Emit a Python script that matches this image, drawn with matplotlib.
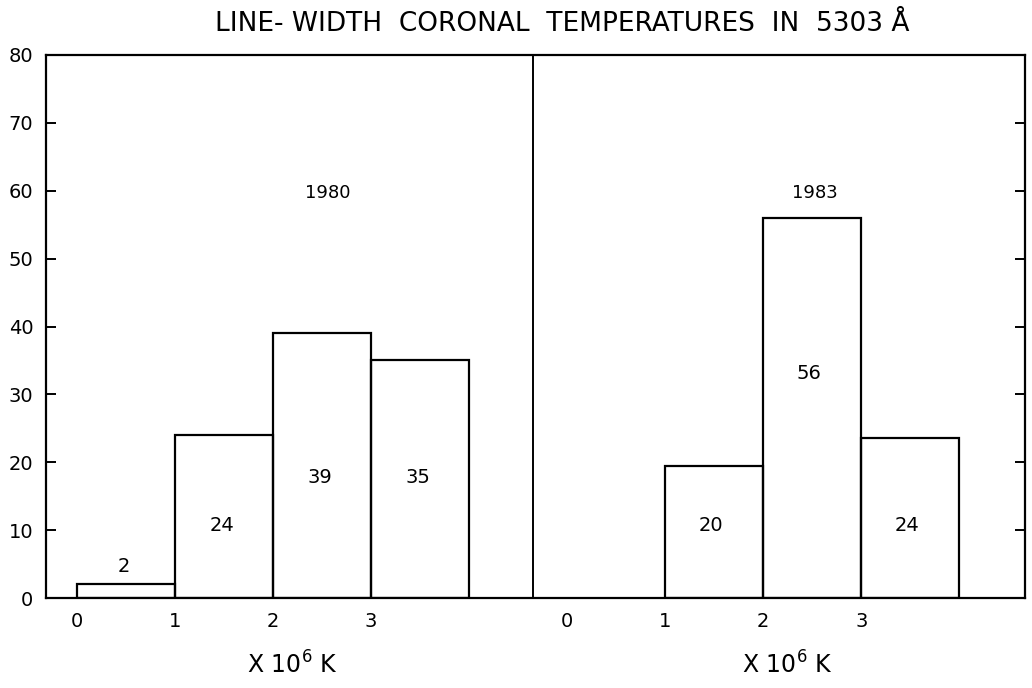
import matplotlib
matplotlib.use("Agg")
import matplotlib.pyplot as plt

# Data
bin_edges = [0, 1, 2, 3, 4]
counts_1980 = [2, 24, 39, 35]
labels_1980 = ["2", "24", "39", "35"]
bins_1983 = [1, 2, 3]          # left edges of bins with data for 1983
counts_1983 = [19.5, 56, 23.5]  # heights as drawn
labels_1983 = ["20", "56", "24"]
year_labels = ["1980", "1983"]
x_tick_labels = ["0", "1", "2", "3"]
y_ticks = [0, 10, 20, 30, 40, 50, 60, 70, 80]
title = "LINE- WIDTH  CORONAL  TEMPERATURES  IN  5303 Å"
x_label = r"X 10$^{6}$ K"

offset = 5  # x offset of second panel

fig = plt.figure(figsize=(10.32, 6.88), dpi=100)
ax = fig.add_axes([46/1032, 90/688, (1025-46)/1032, (598-55)/688])

lw = 1.6
ax.bar(bin_edges[:-1], counts_1980, width=1, align="edge",
       facecolor="none", edgecolor="black", linewidth=lw)
ax.bar([b + offset for b in bins_1983], counts_1983, width=1, align="edge",
       facecolor="none", edgecolor="black", linewidth=lw)

label_y_1980 = [4.7, 10.7, 17.8, 17.8]
for i, t in enumerate(labels_1980):
    ax.text(bin_edges[i] + 0.48, label_y_1980[i], t, ha="center",
            va="center", fontsize=14)
label_y_1983 = [10.7, 33.1, 10.7]
for i, t in enumerate(labels_1983):
    ax.text(bins_1983[i] + offset + 0.47, label_y_1983[i], t,
            ha="center", va="center", fontsize=14)

ax.text(2.56, 59.6, year_labels[0], ha="center", va="center", fontsize=13)
ax.text(offset + 2.53, 59.6, year_labels[1], ha="center", va="center", fontsize=13)

ax.axvline(4.65, color="black", linewidth=1.4)

ax.set_xlim(-0.316, 9.67)
ax.set_ylim(0, 80)
ax.set_yticks(y_ticks)
ax.set_yticklabels([str(v) for v in y_ticks], fontsize=14)
ax.tick_params(axis="y", direction="in", length=7, width=1.4,
               right=True, left=True, pad=9)
xt = [0, 1, 2, 3] + [offset + v for v in [0, 1, 2, 3]]
ax.set_xticks(xt)
ax.set_xticklabels(x_tick_labels + x_tick_labels, fontsize=14)
ax.tick_params(axis="x", length=0, pad=10)
for s in ax.spines.values():
    s.set_linewidth(1.6)

ax.text(2.2, -9.8, x_label, ha="center", va="center", fontsize=17)
ax.text(offset + 2.25, -9.8, x_label, ha="center", va="center", fontsize=17)

fig.text(0.545, 1 - 24/688, title, ha="center", va="center", fontsize=19)

fig.savefig("out.png", dpi=100)
